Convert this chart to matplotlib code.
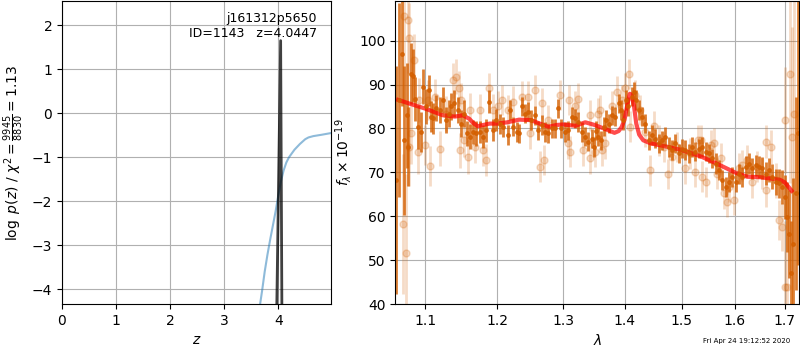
import numpy as np
import matplotlib
matplotlib.use("Agg")
import matplotlib.pyplot as plt

# --- p(z) panel ---
z_chi = [3.60, 3.667, 3.70, 3.75, 3.80, 3.85, 3.90, 3.95, 4.00, 4.05, 4.10, 4.15,
         4.20, 4.30, 4.40, 4.50, 4.56, 4.65, 4.80, 4.98]
logp_chi = [-4.9, -4.32, -4.05, -3.60, -3.22, -2.88, -2.56, -2.24, -1.88, -1.55, -1.30, -1.12,
            -1.00, -0.83, -0.70, -0.59, -0.55, -0.52, -0.49, -0.45]
z_peak = [3.95, 3.972, 4.0447, 4.068, 4.09]
logp_peak = [-8.0, -4.5, 1.65, -4.5, -8.0]
obj_name = "j161312p5650"
obj_id = 1143
z_best = 4.0447
chi2_num, chi2_den, chi2_red = 9945, 8830, 1.13

# --- spectrum panel: first set (dark) ---
wave1 = [1.0616, 1.0650, 1.0694, 1.0716, 1.0755, 1.0777, 1.0812, 1.0834, 1.0868, 1.0899,
         1.0943, 1.0964, 1.1008, 1.1044, 1.1076, 1.1099, 1.1144, 1.1190, 1.1235, 1.1281,
         1.1317, 1.1349, 1.1394, 1.1439, 1.1486, 1.1533, 1.1566, 1.1604, 1.1651, 1.1698,
         1.1746, 1.1793, 1.1840, 1.1878, 1.1935, 1.1982, 1.2038, 1.2087, 1.2151, 1.2186,
         1.2235, 1.2284, 1.2319, 1.2358, 1.2408, 1.2457, 1.2508, 1.2560, 1.2611, 1.2662,
         1.2714, 1.2765, 1.2816, 1.2867, 1.2919, 1.2970, 1.3024, 1.3077, 1.3141, 1.3184,
         1.3238, 1.3291, 1.3345, 1.3398, 1.3452, 1.3494, 1.3530, 1.3564, 1.3603, 1.3648,
         1.3692, 1.3731, 1.3787, 1.3843, 1.3899, 1.3938, 1.3982, 1.4027, 1.4066, 1.4123,
         1.4164, 1.4199, 1.4240, 1.4298, 1.4356, 1.4414, 1.4472, 1.4531, 1.4589, 1.4647,
         1.4706, 1.4767, 1.4827, 1.4888, 1.4948, 1.5009, 1.5069, 1.5130, 1.5190, 1.5251,
         1.5318, 1.5381, 1.5444, 1.5507, 1.5570, 1.5633, 1.5696, 1.5759, 1.5822, 1.5885,
         1.5949, 1.6014, 1.6080, 1.6146, 1.6211, 1.6277, 1.6342, 1.6408, 1.6474, 1.6539,
         1.6606, 1.6674, 1.6743, 1.6811, 1.6879, 1.6947, 1.6995, 1.7036, 1.7084, 1.7132,
         1.7173, 1.7221, 1.7269]
flux1 = [68.2, 86.5, 97.0, 77.3, 83.0, 75.8, 92.5, 92.0, 86.8, 80.4,
         79.2, 89.5, 85.0, 88.7, 82.7, 82.3, 84.6, 84.2, 86.5, 81.9,
         83.4, 85.0, 85.7, 84.2, 81.1, 83.4, 78.9, 78.1, 79.2, 78.9,
         79.2, 78.1, 79.6, 86.1, 79.6, 81.9, 81.1, 80.4, 78.5, 84.2,
         80.4, 79.2, 78.9, 85.0, 83.4, 83.8, 81.9, 83.0, 79.6, 80.8,
         79.2, 78.9, 80.0, 80.0, 84.6, 80.0, 79.2, 79.6, 82.7, 82.3,
         81.5, 79.2, 78.1, 77.0, 77.7, 75.8, 79.5, 78.1, 77.3, 80.4,
         81.9, 81.1, 83.0, 82.7, 85.7, 84.2, 81.9, 86.5, 85.0, 87.2,
         88.4, 86.5, 84.2, 82.7, 81.1, 77.3, 78.5, 77.7, 76.6, 77.3,
         78.1, 75.8, 75.1, 76.6, 74.3, 75.4, 75.1, 74.3, 75.8, 74.7,
         75.4, 75.8, 74.7, 74.3, 73.2, 72.0, 70.5, 68.2, 66.7, 67.8,
         69.0, 67.8, 69.7, 69.0, 71.3, 72.0, 70.9, 71.6, 71.3, 70.9,
         69.7, 70.5, 69.0, 67.8, 67.5, 66.7, 64.4, 59.8, 56.0, 47.0,
         53.8, 65.2, 79.0]
err1 = [26.0, 22.0, 12.0, 17.0, 12.0, 9.0, 7.0, 6.0, 5.0, 5.0,
        4.5, 4.0, 4.0, 3.5, 3.5, 3.5, 3.0, 3.0, 3.0, 3.0,
        3.0, 3.0, 3.0, 3.0, 3.0, 3.0, 2.8, 2.8, 2.8, 2.8,
        2.6, 2.6, 2.6, 2.6, 2.5, 2.5, 2.3, 2.3, 2.3, 2.3,
        2.2, 2.2, 2.2, 2.2, 2.2, 2.2, 2.2, 2.2, 2.2, 2.2,
        2.2, 2.2, 2.2, 2.2, 2.2, 2.2, 2.2, 2.2, 2.2, 2.2,
        2.2, 2.2, 2.2, 2.2, 2.2, 2.2, 2.2, 2.2, 2.2, 2.2,
        2.2, 2.2, 2.2, 2.2, 2.2, 2.2, 2.2, 2.2, 2.2, 2.2,
        2.2, 2.2, 2.2, 2.2, 2.2, 2.2, 2.2, 2.2, 2.2, 2.2,
        2.2, 2.2, 2.2, 2.2, 2.2, 2.2, 2.2, 2.2, 2.2, 2.2,
        2.2, 2.2, 2.2, 2.2, 2.2, 2.3, 2.3, 2.3, 2.3, 2.3,
        2.3, 2.3, 2.3, 2.3, 2.4, 2.4, 2.4, 2.4, 2.5, 2.5,
        2.6, 2.7, 2.8, 3.0, 3.3, 3.8, 5.0, 8.0, 10.0, 12.0,
        15.0, 22.0, 30.0]

# --- spectrum panel: second set (faint) ---
wave2 = [1.0705, 1.0725, 1.0747, 1.0768, 1.0781, 1.0790, 1.0812, 1.0855, 1.0899, 1.0921,
         1.0999, 1.1031, 1.1063, 1.1122, 1.1199, 1.1281, 1.1371, 1.1417, 1.1462, 1.1470,
         1.1486, 1.1533, 1.1580, 1.1613, 1.1675, 1.1746, 1.1793, 1.1840, 1.1887, 1.1935,
         1.2013, 1.2063, 1.2161, 1.2235, 1.2358, 1.2457, 1.2483, 1.2560, 1.2637, 1.2662,
         1.2703, 1.2765, 1.2944, 1.3077, 1.3090, 1.3104, 1.3184, 1.3238, 1.3318, 1.3425,
         1.3430, 1.3505, 1.3559, 1.3592, 1.3620, 1.3676, 1.3787, 1.3871, 1.3955, 1.4010,
         1.4077, 1.4100, 1.4181, 1.4269, 1.4356, 1.4443, 1.4502, 1.4589, 1.4676, 1.4749,
         1.4827, 1.4918, 1.5069, 1.5160, 1.5251, 1.5311, 1.5349, 1.5381, 1.5444, 1.5538,
         1.5601, 1.5664, 1.5727, 1.5790, 1.5841, 1.5885, 1.5982, 1.6080, 1.6146, 1.6244,
         1.6342, 1.6441, 1.6539, 1.6606, 1.6620, 1.6722, 1.6811, 1.6879, 1.6947, 1.6995,
         1.7000, 1.7050, 1.7105, 1.7139, 1.7187]
flux2 = [58.2, 105.5, 51.7, 104.7, 75.8, 100.5, 78.9, 95.6, 74.7, 86.5,
         76.2, 86.5, 71.4, 87.2, 75.4, 83.4, 91.0, 91.8, 89.1, 75.0,
         86.5, 77.3, 73.5, 84.2, 75.8, 84.2, 75.0, 72.8, 89.1, 84.2,
         85.0, 86.5, 84.2, 86.1, 87.2, 87.2, 78.9, 88.7, 71.3, 85.7,
         72.8, 81.9, 87.6, 76.6, 86.5, 74.7, 85.0, 86.8, 75.0, 83.0,
         73.2, 74.7, 83.4, 84.2, 75.0, 76.6, 85.0, 88.4, 86.5, 89.1,
         92.4, 80.4, 87.6, 84.2, 79.2, 70.5, 80.5, 77.3, 75.8, 69.6,
         73.5, 75.8, 70.9, 74.3, 70.1, 77.3, 77.3, 69.0, 67.8, 76.2,
         76.6, 69.7, 73.2, 65.2, 63.3, 66.7, 63.7, 70.9, 71.6, 72.8,
         67.8, 71.3, 69.7, 77.0, 65.9, 75.8, 68.2, 59.1, 57.6, 81.9,
         43.9, 43.9, 92.5, 78.1, 83.4]
err2 = [16.0, 20.0, 18.0, 12.0, 9.0, 8.0, 7.0, 6.0, 5.0, 5.0,
        4.5, 4.5, 4.5, 4.0, 4.0, 4.0, 4.0, 4.0, 4.0, 4.0,
        3.8, 3.8, 3.8, 3.8, 3.6, 3.6, 3.6, 3.6, 3.6, 3.6,
        3.5, 3.5, 3.5, 3.5, 3.5, 3.5, 3.5, 3.5, 3.5, 3.5,
        3.5, 3.5, 3.5, 3.5, 3.5, 3.5, 3.5, 3.5, 3.5, 3.5,
        3.5, 3.5, 3.5, 3.5, 3.5, 3.5, 3.5, 3.5, 3.5, 3.5,
        3.5, 3.5, 3.5, 3.5, 3.5, 3.5, 3.5, 3.5, 3.5, 3.5,
        3.5, 3.5, 3.5, 3.5, 3.5, 3.5, 3.5, 3.5, 3.5, 3.5,
        3.5, 3.5, 3.5, 3.5, 3.5, 3.5, 3.5, 3.5, 3.5, 3.5,
        3.6, 3.6, 3.6, 3.7, 3.8, 3.8, 4.0, 4.5, 5.5, 12.0,
        15.0, 20.0, 25.0, 25.0, 30.0]

# --- best-fit model ---
wave_m = [1.0643, 1.080, 1.100, 1.1235, 1.140, 1.151, 1.160, 1.166, 1.172, 1.180,
          1.189, 1.200, 1.215, 1.232, 1.250, 1.265, 1.277, 1.290, 1.300, 1.319,
          1.335, 1.350, 1.367, 1.383, 1.390, 1.395, 1.400, 1.405, 1.409, 1.412,
          1.416, 1.420, 1.425, 1.432, 1.445, 1.464, 1.500, 1.536, 1.567, 1.600,
          1.624, 1.650, 1.678, 1.690, 1.700, 1.714]
flux_m = [86.5, 85.6, 84.5, 83.0, 82.7, 83.0, 82.2, 81.2, 80.5, 80.8,
          81.1, 81.1, 81.4, 82.0, 81.9, 81.0, 80.4, 80.8, 80.9, 80.6,
          81.4, 80.8, 79.9, 79.0, 79.4, 80.3, 82.0, 85.6, 87.9, 87.6,
          85.2, 81.1, 78.6, 77.3, 76.6, 76.1, 75.1, 73.6, 71.9, 70.0,
          69.0, 68.9, 68.5, 68.3, 67.7, 65.8]

wave_ticks = [1.1, 1.2, 1.3, 1.4, 1.5, 1.6, 1.7]
grism_color = '#d45f00'

fig = plt.figure(figsize=(8, 3.5), dpi=100)

ax = fig.add_axes([0.0775, 0.131, 0.3365, 0.866])
ax.plot(z_chi, logp_chi, color='tab:blue', alpha=0.5, lw=1.5)
ax.plot(z_peak, logp_peak, color='k', alpha=0.75, lw=2)
ax.set_xlim(0, 4.98)
ax.set_ylim(-4.34, 2.55)
ax.set_xticks([0, 1, 2, 3, 4])
ax.set_yticks([-4, -3, -2, -1, 0, 1, 2])
ax.grid()
ax.set_xlabel(r'$z$')
ax.set_ylabel(r'$\log\ p(z)$ / $\chi^2=\frac{%d}{%d}=%.2f$' % (chi2_num, chi2_den, chi2_red))
ax.text(0.948, 0.965, '%s\nID=%d   z=%.4f' % (obj_name, obj_id, z_best),
        transform=ax.transAxes, ha='right', va='top', fontsize=9)

ax2 = fig.add_axes([0.494, 0.131, 0.505, 0.866])
ax2.errorbar(wave2, flux2, yerr=err2, color=grism_color, alpha=0.22,
             marker='o', ms=5, linestyle='None', elinewidth=2)
ax2.errorbar(wave1, flux1, yerr=err1, color=grism_color, alpha=0.8,
             marker='o', ms=2.5, linestyle='None', elinewidth=2)
ax2.plot(wave_m, flux_m, color='r', alpha=0.7, lw=3)
ax2.set_xscale('log')
ax2.set_xlim(1.0605, 1.7297)
ax2.set_ylim(40, 109)
ax2.set_xticks(wave_ticks)
ax2.set_xticklabels(['%.1f' % w for w in wave_ticks])
ax2.xaxis.set_minor_locator(matplotlib.ticker.NullLocator())
ax2.grid()
ax2.set_xlabel(r'$\lambda$')
ax2.set_ylabel(r'$f_\lambda\times 10^{-19}$')

fig.text(0.9875, 0.018, 'Fri Apr 24 19:12:52 2020', ha='right', va='bottom', fontsize=5)

fig.savefig('out.png', dpi=100)
